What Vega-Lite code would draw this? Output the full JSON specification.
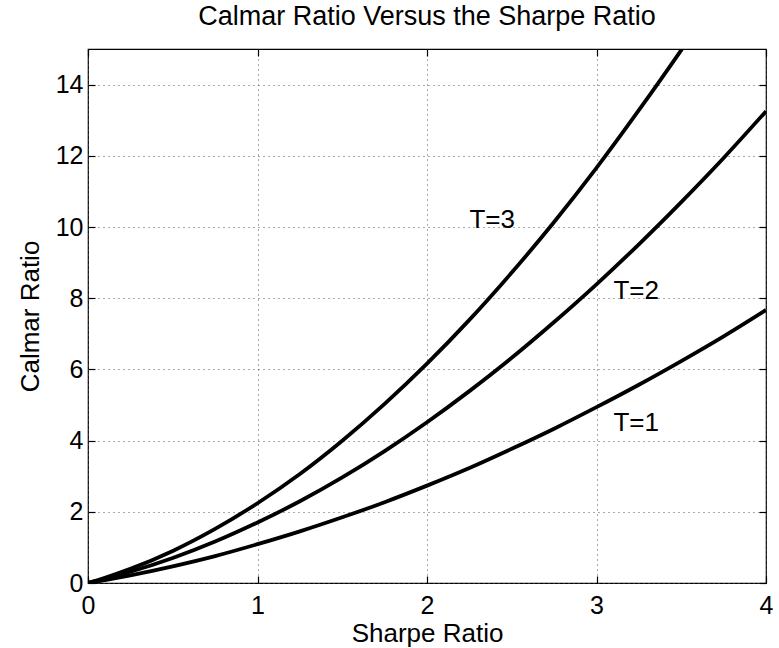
{
  "$schema": "https://vega.github.io/schema/vega-lite/v6.json",
  "width": 678,
  "height": 534,
  "autosize": "none",
  "padding": {"left": 88, "top": 49, "right": 13, "bottom": 65},
  "background": "white",
  "title": {"text": "Calmar Ratio Versus the Sharpe Ratio", "fontSize": 27, "font": "Liberation Sans", "fontWeight": "normal", "color": "#000", "anchor": "middle", "offset": 17},
  "config": {
    "view": {"stroke": "#000", "strokeWidth": 1.2},
    "font": "Liberation Sans",
    "axis": {"labelFont": "Liberation Sans", "titleFont": "Liberation Sans", "labelColor": "#000", "titleColor": "#000", "tickColor": "#000", "tickWidth": 1.2, "domain": false, "labelFlush": false}
  },
  "datasets": {
    "curves": [
      {"S": 0, "C": 0, "T": "1"}, {"S": 0.1, "C": 0.082, "T": "1"}, {"S": 0.25, "C": 0.216, "T": "1"}, {"S": 0.5, "C": 0.469, "T": "1"}, {"S": 0.75, "C": 0.756, "T": "1"}, {"S": 1, "C": 1.09, "T": "1"}, {"S": 1.25, "C": 1.45, "T": "1"}, {"S": 1.5, "C": 1.845, "T": "1"}, {"S": 1.75, "C": 2.27, "T": "1"}, {"S": 2, "C": 2.735, "T": "1"}, {"S": 2.25, "C": 3.23, "T": "1"}, {"S": 2.5, "C": 3.77, "T": "1"}, {"S": 2.75, "C": 4.335, "T": "1"}, {"S": 3, "C": 4.94, "T": "1"}, {"S": 3.25, "C": 5.57, "T": "1"}, {"S": 3.5, "C": 6.235, "T": "1"}, {"S": 3.75, "C": 6.93, "T": "1"}, {"S": 4, "C": 7.67, "T": "1"},
      {"S": 0, "C": 0, "T": "2"}, {"S": 0.1, "C": 0.118, "T": "2"}, {"S": 0.25, "C": 0.316, "T": "2"}, {"S": 0.5, "C": 0.703, "T": "2"}, {"S": 0.75, "C": 1.165, "T": "2"}, {"S": 1, "C": 1.7, "T": "2"}, {"S": 1.25, "C": 2.295, "T": "2"}, {"S": 1.5, "C": 2.965, "T": "2"}, {"S": 1.75, "C": 3.705, "T": "2"}, {"S": 2, "C": 4.515, "T": "2"}, {"S": 2.25, "C": 5.39, "T": "2"}, {"S": 2.5, "C": 6.325, "T": "2"}, {"S": 2.75, "C": 7.33, "T": "2"}, {"S": 3, "C": 8.39, "T": "2"}, {"S": 3.25, "C": 9.515, "T": "2"}, {"S": 3.5, "C": 10.7, "T": "2"}, {"S": 3.75, "C": 11.94, "T": "2"}, {"S": 4, "C": 13.25, "T": "2"},
      {"S": 0, "C": 0, "T": "3"}, {"S": 0.1, "C": 0.146, "T": "3"}, {"S": 0.25, "C": 0.396, "T": "3"}, {"S": 0.5, "C": 0.901, "T": "3"}, {"S": 0.75, "C": 1.52, "T": "3"}, {"S": 1, "C": 2.24, "T": "3"}, {"S": 1.25, "C": 3.06, "T": "3"}, {"S": 1.5, "C": 3.995, "T": "3"}, {"S": 1.75, "C": 5.03, "T": "3"}, {"S": 2, "C": 6.16, "T": "3"}, {"S": 2.25, "C": 7.39, "T": "3"}, {"S": 2.5, "C": 8.72, "T": "3"}, {"S": 2.75, "C": 10.14, "T": "3"}, {"S": 3, "C": 11.66, "T": "3"}, {"S": 3.25, "C": 13.28, "T": "3"}, {"S": 3.5, "C": 14.97, "T": "3"}, {"S": 3.75, "C": 16.72, "T": "3"}
    ],
    "labels": [
      {"x": 2.25, "y": 10.2, "label": "T=3"},
      {"x": 3.1, "y": 8.2, "label": "T=2"},
      {"x": 3.1, "y": 4.5, "label": "T=1"}
    ]
  },
  "resolve": {"axis": {"x": "independent", "y": "independent"}},
  "layer": [
    {
      "data": {"name": "curves"},
      "mark": {"type": "line", "color": "#000", "strokeWidth": 3.8, "interpolate": "monotone", "clip": true},
      "encoding": {
        "x": {"field": "S", "type": "quantitative", "scale": {"domain": [0, 4], "nice": false, "zero": false},
          "axis": {"orient": "bottom", "values": [0, 1, 2, 3, 4], "grid": true, "gridColor": "#555", "gridDash": [1, 4], "gridWidth": 1, "gridOpacity": 1, "tickSize": -7, "labelFontSize": 25, "labelPadding": 17, "title": "Sharpe Ratio", "titleFontSize": 26, "titleFontWeight": "normal", "titlePadding": 2}},
        "y": {"field": "C", "type": "quantitative", "scale": {"domain": [0, 15], "nice": false, "zero": false},
          "axis": {"orient": "left", "values": [0, 2, 4, 6, 8, 10, 12, 14], "grid": true, "gridColor": "#555", "gridDash": [1, 4], "gridWidth": 1, "gridOpacity": 1, "tickSize": -7, "labelFontSize": 25, "labelPadding": 12, "title": "Calmar Ratio", "titleFontSize": 26, "titleFontWeight": "normal", "titlePadding": 12}},
        "detail": {"field": "T", "type": "nominal"}
      }
    },
    {
      "data": {"name": "labels"},
      "mark": {"type": "text", "align": "left", "baseline": "middle", "fontSize": 26, "font": "Liberation Sans", "color": "#000"},
      "encoding": {
        "x": {"field": "x", "type": "quantitative", "axis": {"orient": "top", "values": [0, 1, 2, 3, 4], "grid": false, "labels": false, "tickSize": -7, "title": null}},
        "y": {"field": "y", "type": "quantitative", "axis": {"orient": "right", "values": [0, 2, 4, 6, 8, 10, 12, 14], "grid": false, "labels": false, "tickSize": -7, "title": null}},
        "text": {"field": "label", "type": "nominal"}
      }
    }
  ]
}
